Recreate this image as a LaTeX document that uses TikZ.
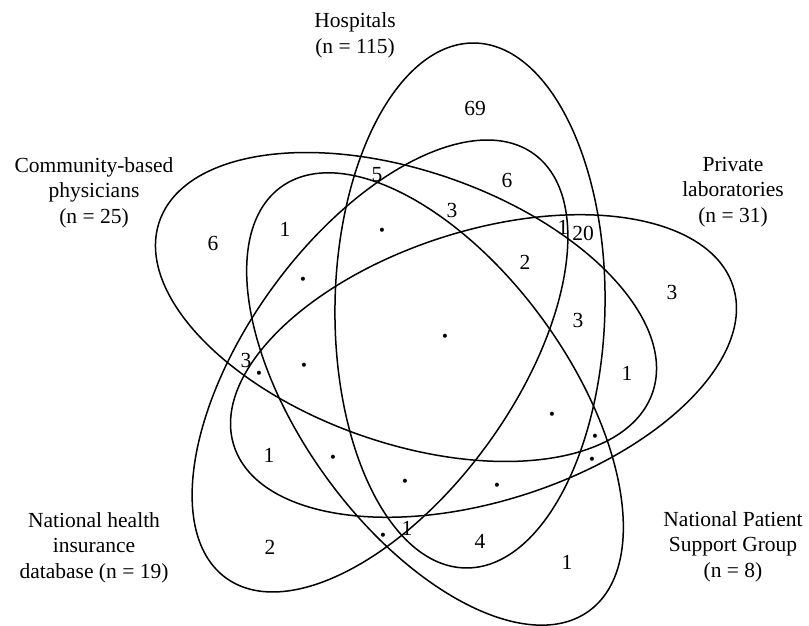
\documentclass[tikz,border=0pt]{standalone}
\usepackage{fontspec}
\setmainfont{Liberation Serif}
\begin{document}
\begin{tikzpicture}[x=1pt,y=1pt,
  venn/.style={line width=1.5pt},
  setlabel/.style={align=center,anchor=north,inner sep=0pt,font=\fontsize{21.5}{25.5}\selectfont},
  num/.style={inner sep=0pt,font=\fontsize{21.5}{25.5}\selectfont},
  zero/.style={inner sep=0pt,yshift=-2.5pt,font=\fontsize{25}{25.5}\selectfont\bfseries}]
\useasboundingbox (0,0) rectangle (809,626);
% ellipses
\draw[venn,rotate around={89:(470,320.5)}] (470,320.5) ellipse [x radius=262.5, y radius=135];
\draw[venn,rotate around={17.7:(483.5,260)}] (483.5,260) ellipse [x radius=262, y radius=135];
\draw[venn,rotate around={-19.2:(406,319)}] (406,319) ellipse [x radius=261, y radius=136];
\draw[venn,rotate around={54:(380,260)}] (380,260) ellipse [x radius=262, y radius=133];
\draw[venn,rotate around={126:(435,227)}] (435,227) ellipse [x radius=262, y radius=134];
% set labels
\node[setlabel] (hosp) at (355,613.5) {Hospitals\\(n = 115)};
\node[setlabel] (comm) at (94,469) {Community-based\\physicians\\(n = 25)};
\node[setlabel] (priv) at (733,469) {Private\\laboratories\\(n = 31)};
\node[setlabel] (nhid) at (94,114) {National health\\insurance\\database (n = 19)};
\node[setlabel] (npsg) at (733,115) {National Patient\\Support Group\\(n = 8)};
% region counts
\node[num] (r1) at (475,518) {69};
\node[num] (r2) at (377,451) {5};
\node[num] (r3) at (507,446) {6};
\node[num] (r4) at (452,416) {3};
\node[zero] (r5) at (382,395) {·};
\node[num] (r6) at (563,399) {1};
\node[num] (r7) at (583,393) {20};
\node[num] (r8) at (525,364) {2};
\node[num] (r9) at (672,334) {3};
\node[zero] (r10) at (445,289) {·};
\node[num] (r11) at (578,306) {3};
\node[num] (r12) at (627,253) {1};
\node[zero] (r13) at (552,211) {·};
\node[zero] (r14) at (595,189) {·};
\node[zero] (r15) at (592,166) {·};
\node[zero] (r16) at (333,168) {·};
\node[num] (r17) at (213,383) {6};
\node[num] (r18) at (285,397) {1};
\node[zero] (r19) at (303,346) {·};
\node[num] (r20) at (246,266) {3};
\node[zero] (r21) at (259,252) {·};
\node[zero] (r22) at (304,260) {·};
\node[num] (r23) at (269,171) {1};
\node[zero] (r24) at (405,144) {·};
\node[zero] (r25) at (497,140) {·};
\node[num] (r26) at (270,79) {2};
\node[zero] (r27) at (383,90) {·};
\node[num] (r28) at (407,98) {1};
\node[num] (r29) at (480,85) {4};
\node[num] (r30) at (567,64) {1};
\end{tikzpicture}
\end{document}
